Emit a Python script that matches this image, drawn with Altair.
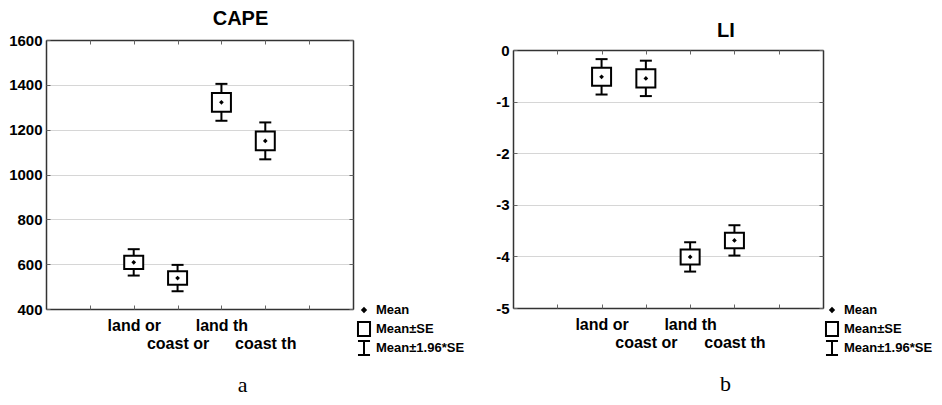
import altair as alt
import pandas as pd

categories = ["land or", "coast or", "land th", "coast th"]
cape_mean = [608, 538, 1322, 1150]
cape_se = [30, 30, 42, 42]
li_mean = [-0.52, -0.55, -4.01, -3.69]
li_se = [0.175, 0.175, 0.145, 0.15]
cape_ticks = [400, 600, 800, 1000, 1200, 1400, 1600]
li_ticks = [-5, -4, -3, -2, -1, 0]
legend_labels = ["Mean", "Mean±SE", "Mean±1.96*SE"]
legend_shapes = [
    "M0,-0.25L0.25,0L0,0.25L-0.25,0Z",
    "M-0.86,-1H0.86V1H-0.86Z",
    "M-0.86,-1H0.86M0,-1V1M-0.86,1H0.86",
]
# empty slots on both sides of the four categories
slots = [" ", "  "] + categories + ["   ", "    "]

SANS = "Liberation Sans"
SERIF = "Liberation Serif"
FRAME = "#333333"
TICK = "#666666"


def panel(title, mean, se, ticks, width, height, top_gap, caption, cap_x, leg_dx):
    df = pd.DataFrame({"cat": categories, "mean": mean, "se": se})
    base = alt.Chart(df).transform_calculate(
        lo="datum.mean - datum.se",
        hi="datum.mean + datum.se",
        clo="datum.mean - 1.96 * datum.se",
        chi="datum.mean + 1.96 * datum.se",
    )
    xs = alt.Scale(type="point", domain=slots, padding=0)
    ys = alt.Scale(domain=[ticks[0], ticks[-1]], nice=False, zero=False,
                   range=[height, top_gap])

    # labelled axes that also draw the frame
    x_bottom = alt.Axis(
        orient="bottom", values=slots, domain=True, domainColor=FRAME, domainWidth=1.5,
        ticks=False, tickSize=0, grid=False, labelAngle=0, labelOverlap=False,
        labelPadding=8, labelBaseline="top", labelFont=SANS, labelFontSize=16,
        labelFontWeight="bold", labelColor="black", labelLineHeight=18,
        labelExpr="indexof(['coast or','coast th'], datum.value) >= 0 ? ['', datum.value] : datum.value",
        title=caption, titleFont=SERIF, titleFontSize=22, titleFontWeight="normal",
        titleColor="black", titleX=cap_x, titleAlign="center", titlePadding=23,
    )
    y_left = alt.Axis(
        orient="left", values=ticks, domain=True, domainColor=FRAME, domainWidth=1.5,
        ticks=False, tickSize=0, grid=True, gridColor="#d6d6d6", gridWidth=1.2,
        labelFont=SANS, labelFontSize=15, labelFontWeight="bold", labelColor="black",
        labelPadding=4, labelExpr="'' + datum.value", title=None,
    )
    x_top = alt.Axis(
        orient="top", values=slots, offset=-top_gap, domain=True, domainColor=FRAME,
        domainWidth=1.5, ticks=False, tickSize=0, grid=False, labels=False, title=None,
    )
    y_right = alt.Axis(
        orient="right", values=ticks, domain=True, domainColor=FRAME, domainWidth=1.5,
        ticks=False, tickSize=0, grid=False, labels=False, title=None,
    )
    # inward tick marks
    tick_style = dict(domain=False, grid=False, labels=False, title=None,
                      tickSize=4, tickColor=TICK, tickWidth=1)
    x_bottom_t = alt.Axis(orient="bottom", values=slots, offset=-4, **tick_style)
    x_top_t = alt.Axis(orient="top", values=slots, offset=-(top_gap + 4), **tick_style)
    y_left_t = alt.Axis(orient="left", values=ticks, offset=-4, **tick_style)
    y_right_t = alt.Axis(orient="right", values=ticks, offset=-4, **tick_style)

    whisk = base.mark_rule(color="black", strokeWidth=2).encode(
        x=alt.X("cat:N", scale=xs, axis=x_bottom),
        y=alt.Y("clo:Q", scale=ys, axis=y_left),
        y2="chi:Q",
    )
    box = base.mark_bar(width=19, fill="white", stroke="black", strokeWidth=2).encode(
        x=alt.X("cat:N", scale=xs, axis=x_top),
        y=alt.Y("lo:Q", scale=ys, axis=y_right),
        y2="hi:Q",
    )
    cap_lo = base.mark_tick(color="black", size=12, thickness=2, opacity=1).encode(
        x=alt.X("cat:N", scale=xs, axis=x_bottom_t),
        y=alt.Y("clo:Q", scale=ys, axis=y_left_t),
    )
    cap_hi = base.mark_tick(color="black", size=12, thickness=2, opacity=1).encode(
        x=alt.X("cat:N", scale=xs, axis=x_top_t),
        y=alt.Y("chi:Q", scale=ys, axis=y_right_t),
    )
    dot = base.mark_point(shape="diamond", filled=True, size=22, color="black", opacity=1).encode(
        x=alt.X("cat:N", scale=xs, axis=None),
        y=alt.Y("mean:Q", scale=ys, axis=None),
    )
    leg = alt.Chart(pd.DataFrame({"item": legend_labels})).mark_point(
        color="black", filled=False, strokeWidth=2, opacity=0
    ).encode(
        shape=alt.Shape(
            "item:N",
            scale=alt.Scale(domain=legend_labels, range=legend_shapes),
            legend=alt.Legend(
                orient="none", legendX=width + leg_dx, legendY=262, title=None,
                symbolSize=196, symbolStrokeWidth=2, symbolStrokeColor="black",
                symbolFillColor="transparent", symbolOpacity=1,
                labelFont=SANS, labelFontSize=13, labelFontWeight="bold",
                labelColor="black", labelOffset=4, rowPadding=-7, padding=0,
                gridAlign="all",
            ),
        ),
    )
    return alt.layer(whisk, box, cap_lo, cap_hi, dot, leg).resolve_axis(
        x="independent", y="independent"
    ).properties(width=width, height=height, title=title)


left = panel(
    alt.Title(text="CAPE", font=SANS, fontSize=20, fontWeight="bold", color="black",
              baseline="alphabetic", offset=-12, anchor="middle", dx=41),
    cape_mean, cape_se, cape_ticks, 307, 269, 0, "a", 196, 3,
)
right = panel(
    alt.Title(text="LI", font=SANS, fontSize=20, fontWeight="bold", color="black",
              baseline="alphabetic", offset=-17, anchor="middle", dx=58),
    li_mean, li_se, li_ticks, 310, 268, 10, "b", 212, 1,
)

chart = alt.hconcat(left, right, spacing=30).resolve_scale(shape="independent").resolve_legend(
    shape="independent"
).properties(
    padding={"left": 0, "top": 1, "right": 0, "bottom": 0}
).configure_view(stroke=None)

chart.save("out.html", embed_options={"renderer": "svg", "actions": False})
